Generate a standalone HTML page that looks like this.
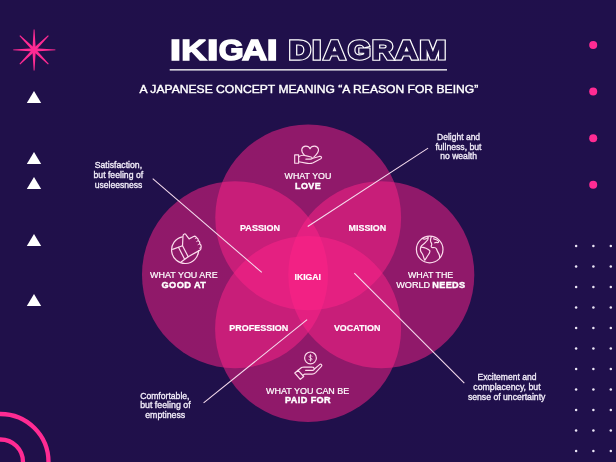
<!DOCTYPE html>
<html>
<head>
<meta charset="utf-8">
<title>Ikigai Diagram</title>
<style>
html,body{margin:0;padding:0;background:#1f1149;}
body{width:616px;height:462px;overflow:hidden;font-family:"Liberation Sans",sans-serif;}
svg{display:block;will-change:transform;}
text{font-family:"Liberation Sans",sans-serif;}
</style>
</head>
<body>
<svg width="616" height="462" viewBox="0 0 616 462">
  <defs>
    <linearGradient id="bg" x1="0" y1="0" x2="1" y2="0">
      <stop offset="0" stop-color="#20104a"/>
      <stop offset="1" stop-color="#20104c"/>
    </linearGradient>
  </defs>
  <rect x="0" y="0" width="616" height="462" fill="url(#bg)"/>

  <!-- star -->
  <g transform="translate(34.1,49.9)" fill="#ff2b93">
    <polygon points="-0.45,-20.4 0.45,-20.4 1.7,0 0.45,20.6 -0.45,20.6 -1.7,0"/>
    <polygon points="-20.9,-0.45 -20.9,0.45 0,1.7 21.3,0.45 21.3,-0.45 0,-1.7"/>
    <g transform="rotate(45)">
      <polygon points="-0.5,-20.2 0.5,-20.2 1.7,0 0.5,20.2 -0.5,20.2 -1.7,0"/>
      <polygon points="-20.2,-0.5 -20.2,0.5 0,1.7 20.2,0.5 20.2,-0.5 0,-1.7"/>
    </g>
    <circle r="2.6"/>
  </g>

  <!-- triangles -->
  <g fill="#ffffff">
    <polygon points="34,91 41.2,103 26.8,103"/>
    <polygon points="34,152 41.2,164 26.8,164"/>
    <polygon points="34,177 41.2,189 26.8,189"/>
    <polygon points="34,234 41.2,246 26.8,246"/>
    <polygon points="34,294 41.2,306 26.8,306"/>
  </g>

  <!-- pink dots -->
  <g fill="#ff2b93">
    <circle cx="593.2" cy="45.1" r="4"/>
    <circle cx="593.2" cy="91.5" r="4"/>
    <circle cx="593.2" cy="138.2" r="4"/>
    <circle cx="593.2" cy="184.8" r="4"/>
  </g>

  <!-- dot grid -->
  <g fill="#ebe6f6">
    <circle cx="576.1" cy="246.0" r="1.25"/><circle cx="593.4" cy="246.0" r="1.25"/><circle cx="610.8" cy="246.0" r="1.25"/>
    <circle cx="576.1" cy="266.5" r="1.25"/><circle cx="593.4" cy="266.5" r="1.25"/><circle cx="610.8" cy="266.5" r="1.25"/>
    <circle cx="576.1" cy="287.0" r="1.25"/><circle cx="593.4" cy="287.0" r="1.25"/><circle cx="610.8" cy="287.0" r="1.25"/>
    <circle cx="576.1" cy="307.5" r="1.25"/><circle cx="593.4" cy="307.5" r="1.25"/><circle cx="610.8" cy="307.5" r="1.25"/>
    <circle cx="576.1" cy="328.0" r="1.25"/><circle cx="593.4" cy="328.0" r="1.25"/><circle cx="610.8" cy="328.0" r="1.25"/>
    <circle cx="576.1" cy="348.5" r="1.25"/><circle cx="593.4" cy="348.5" r="1.25"/><circle cx="610.8" cy="348.5" r="1.25"/>
    <circle cx="576.1" cy="369.0" r="1.25"/><circle cx="593.4" cy="369.0" r="1.25"/><circle cx="610.8" cy="369.0" r="1.25"/>
    <circle cx="576.1" cy="389.5" r="1.25"/><circle cx="593.4" cy="389.5" r="1.25"/><circle cx="610.8" cy="389.5" r="1.25"/>
    <circle cx="576.1" cy="410.0" r="1.25"/><circle cx="593.4" cy="410.0" r="1.25"/><circle cx="610.8" cy="410.0" r="1.25"/>
    <circle cx="576.1" cy="430.5" r="1.25"/><circle cx="593.4" cy="430.5" r="1.25"/><circle cx="610.8" cy="430.5" r="1.25"/>
    <circle cx="576.1" cy="451.0" r="1.25"/><circle cx="593.4" cy="451.0" r="1.25"/><circle cx="610.8" cy="451.0" r="1.25"/>
  </g>

  <!-- arcs -->
  <g fill="none" stroke="#ff2b93" stroke-width="4.3">
    <circle cx="0.5" cy="462" r="48"/>
    <circle cx="0.5" cy="462" r="22.5"/>
  </g>

  <!-- title -->
  <g font-weight="bold" fill="#ffffff" stroke="#ffffff" stroke-width="1.6" stroke-linejoin="miter" stroke-miterlimit="2.5">
    <text transform="translate(169.66,59.90) scale(1.416,1)" font-size="28.92" vector-effect="non-scaling-stroke">I</text>
    <text transform="translate(181.16,59.90) scale(1.210,1)" font-size="28.92" vector-effect="non-scaling-stroke">K</text>
    <text transform="translate(206.72,59.90) scale(1.488,1)" font-size="28.92" vector-effect="non-scaling-stroke">I</text>
    <text transform="translate(218.69,59.90) scale(1.107,1)" font-size="28.92" vector-effect="non-scaling-stroke">G</text>
    <text transform="translate(242.03,59.90) scale(1.206,1)" font-size="28.92" vector-effect="non-scaling-stroke">A</text>
    <text transform="translate(266.56,59.90) scale(1.416,1)" font-size="28.92" vector-effect="non-scaling-stroke">I</text>
  </g>
  <g font-weight="bold" fill="#ffffff" stroke="#ffffff" stroke-width="3.6" stroke-linejoin="miter" stroke-miterlimit="2.5">
    <text transform="translate(288.98,58.80) scale(1.166,1)" font-size="25.87" vector-effect="non-scaling-stroke">D</text>
    <text transform="translate(312.56,58.80) scale(1.181,1)" font-size="25.87" vector-effect="non-scaling-stroke">I</text>
    <text transform="translate(323.76,58.80) scale(1.152,1)" font-size="25.87" vector-effect="non-scaling-stroke">A</text>
    <text transform="translate(348.13,58.80) scale(1.105,1)" font-size="25.87" vector-effect="non-scaling-stroke">G</text>
    <text transform="translate(372.36,58.80) scale(1.120,1)" font-size="25.87" vector-effect="non-scaling-stroke">R</text>
    <text transform="translate(395.54,58.80) scale(1.181,1)" font-size="25.87" vector-effect="non-scaling-stroke">A</text>
    <text transform="translate(419.70,58.80) scale(1.216,1)" font-size="25.87" vector-effect="non-scaling-stroke">M</text>
  </g>
  <g font-weight="bold" fill="#20114a" stroke="#20114a" stroke-width="1.35" stroke-linejoin="miter" stroke-miterlimit="2.5">
    <text transform="translate(288.98,58.80) scale(1.166,1)" font-size="25.87" vector-effect="non-scaling-stroke">D</text>
    <text transform="translate(312.56,58.80) scale(1.181,1)" font-size="25.87" vector-effect="non-scaling-stroke">I</text>
    <text transform="translate(323.76,58.80) scale(1.152,1)" font-size="25.87" vector-effect="non-scaling-stroke">A</text>
    <text transform="translate(348.13,58.80) scale(1.105,1)" font-size="25.87" vector-effect="non-scaling-stroke">G</text>
    <text transform="translate(372.36,58.80) scale(1.120,1)" font-size="25.87" vector-effect="non-scaling-stroke">R</text>
    <text transform="translate(395.54,58.80) scale(1.181,1)" font-size="25.87" vector-effect="non-scaling-stroke">A</text>
    <text transform="translate(419.70,58.80) scale(1.216,1)" font-size="25.87" vector-effect="non-scaling-stroke">M</text>
  </g>
  <rect x="169.7" y="69.2" width="277.3" height="1.3" fill="#ffffff"/>
  <text x="139.6" y="93.2" font-size="11.6" fill="#ffffff" stroke="#ffffff" stroke-width="0.4" textLength="338.6" lengthAdjust="spacingAndGlyphs">A JAPANESE CONCEPT MEANING “A REASON FOR BEING”</text>

  <!-- circles -->
  <g fill="#ff2389" fill-opacity="0.505">
    <circle cx="308.2" cy="217.4" r="92.9"/>
    <ellipse cx="235" cy="274.7" rx="93" ry="93.5"/>
    <ellipse cx="381.3" cy="274.7" rx="93" ry="93.5"/>
    <circle cx="308.1" cy="329" r="93"/>
  </g>

  <!-- lines -->
  <g stroke="#f6dcee" stroke-width="1.05">
    <line x1="152.7" y1="178.6" x2="261.8" y2="272.4"/>
    <line x1="428.1" y1="148.1" x2="307.7" y2="226.5"/>
    <line x1="203.6" y1="402.9" x2="307.1" y2="319.6"/>
    <line x1="354.3" y1="273.2" x2="464.3" y2="383.2"/>
  </g>

  <!-- annotations -->
  <g font-size="9.4" fill="#f4effb" stroke="#f4effb" stroke-width="0.33">
    <text x="94.7" y="168.3" textLength="47.4" lengthAdjust="spacingAndGlyphs">Satisfaction,</text>
    <text x="93.5" y="178.0" textLength="49.6" lengthAdjust="spacingAndGlyphs">but feeling of</text>
    <text x="94.7" y="187.7" textLength="47.6" lengthAdjust="spacingAndGlyphs">useleesness</text>
    <text x="437.1" y="140.2" textLength="43.0" lengthAdjust="spacingAndGlyphs">Delight and</text>
    <text x="435.4" y="149.9" textLength="46.1" lengthAdjust="spacingAndGlyphs">fullness, but</text>
    <text x="440.2" y="159.4" textLength="36.8" lengthAdjust="spacingAndGlyphs">no wealth</text>
    <text x="140.2" y="398.6" textLength="49.3" lengthAdjust="spacingAndGlyphs">Comfortable,</text>
    <text x="140.2" y="408.3" textLength="50.4" lengthAdjust="spacingAndGlyphs">but feeling of</text>
    <text x="145.2" y="417.8" textLength="40.0" lengthAdjust="spacingAndGlyphs">emptiness</text>
    <text x="477.5" y="380.2" textLength="59.0" lengthAdjust="spacingAndGlyphs">Excitement and</text>
    <text x="473.3" y="390.0" textLength="67.3" lengthAdjust="spacingAndGlyphs">complacency, but</text>
    <text x="467.9" y="399.7" textLength="77.5" lengthAdjust="spacingAndGlyphs">sense of uncertainty</text>
  </g>

  <!-- labels -->
  <g font-size="9" fill="#ffffff" stroke="#ffffff" stroke-width="0.2">
    <text x="284.6" y="178.9" textLength="46.8" lengthAdjust="spacingAndGlyphs">WHAT YOU</text>
    <text x="295.1" y="188.7" font-weight="bold" textLength="26" lengthAdjust="spacingAndGlyphs" stroke="#fff" stroke-width="0.42" letter-spacing="0.4">LOVE</text>

    <text x="240" y="230.5" font-weight="bold" textLength="40" lengthAdjust="spacingAndGlyphs">PASSION</text>
    <text x="348.6" y="230.5" font-weight="bold" textLength="37.5" lengthAdjust="spacingAndGlyphs">MISSION</text>
    <text x="294.6" y="279.8" font-weight="bold" textLength="26.3" lengthAdjust="spacingAndGlyphs">IKIGAI</text>
    <text x="229.3" y="331.1" font-weight="bold" textLength="58.9" lengthAdjust="spacingAndGlyphs">PROFESSION</text>
    <text x="333.9" y="331.1" font-weight="bold" textLength="46.5" lengthAdjust="spacingAndGlyphs">VOCATION</text>

    <text x="150.1" y="278.2" textLength="67.6" lengthAdjust="spacingAndGlyphs">WHAT YOU ARE</text>
    <text x="161.5" y="287.6" font-weight="bold" textLength="44.8" lengthAdjust="spacingAndGlyphs" stroke="#fff" stroke-width="0.42" letter-spacing="0.4">GOOD AT</text>

    <text x="407.9" y="278.2" textLength="45.4" lengthAdjust="spacingAndGlyphs">WHAT THE</text>
    <text x="396.2" y="287.6" textLength="34" lengthAdjust="spacingAndGlyphs">WORLD</text>
    <text x="432.2" y="287.6" font-weight="bold" textLength="33.4" lengthAdjust="spacingAndGlyphs" stroke="#fff" stroke-width="0.42" letter-spacing="0.4">NEEDS</text>

    <text x="266.1" y="393.6" textLength="83.2" lengthAdjust="spacingAndGlyphs">WHAT YOU CAN BE</text>
    <text x="285" y="403.3" font-weight="bold" textLength="46.1" lengthAdjust="spacingAndGlyphs" stroke="#fff" stroke-width="0.42" letter-spacing="0.4">PAID FOR</text>
  </g>

  <!-- icons -->
  <g id="icons" fill="none" stroke="#fcdcec" stroke-width="1.2" stroke-linecap="round" stroke-linejoin="round">
    <!-- heart in hand -->
    <g transform="translate(308.2,154.6) scale(0.965) translate(-308.2,-154.6)">
      <path d="M310.1,148.4 C308.6,144.9 302.6,144.6 301.6,149 C301.1,151.4 302.4,153.4 304.2,155.2"/>
      <path d="M310.1,148.4 C311.6,144.9 317.8,144.6 318.8,149 C319.4,152 317,154.6 314,157.2"/>
      <rect x="294.2" y="154.9" width="4.1" height="8.7"/>
      <path d="M298.4,156.9 C300.6,155.3 303.2,155 305.4,155.7 L311.2,157.1 C312.8,157.5 312.6,159.3 311,159.3 L305.8,159.3"/>
      <path d="M312.2,158.7 L319.6,156.5 C321.8,156 323,157.8 321.2,159 L313.4,163 C311.4,163.9 308.4,164 306,163.5 L298.4,162"/>
    </g>
    <!-- thumbs up -->
    <g>
      <path d="M182.3,236.8 A13.5,13.5 0 1 0 198.6,250.6"/>
      <path d="M182.5,245.8 L183,236 C183.1,233.6 185.6,233.2 186.4,235.4 L189.1,238.9 L193.6,236.5 C194.8,235.9 196,236.6 196.6,237.8 C197.8,238 198.4,239.6 198.2,240.6 C199.4,241.2 200,242.8 199.6,243.8 C200.8,244.6 201.4,246.4 200.9,247.6 C201.2,249 200.6,249.8 199.6,250.4 L188.2,256.7"/>
      <path d="M172.6,249.4 L182.5,245.8 L188.2,256.7 L180.4,262.4"/>
      <path d="M178.6,247.4 L184.6,259.2"/>
      <path d="M196.6,237.8 L195.2,238.6 M198.2,240.6 L196.6,241.5 M199.6,243.8 L198,244.7 M200.9,247.6 L199.3,248.3" stroke-width="0.8"/>
    </g>
    <!-- globe -->
    <g>
      <circle cx="429.7" cy="249.5" r="13.3"/>
      <path d="M422.4,238.6 C424.4,239.8 426.4,239 428.2,237.4 C428.4,239.2 427.6,240.6 426.2,241.6 C425.2,242.6 424.4,243.6 423.4,244.2 C422.2,245 421.2,245.8 420.8,247 C420.2,249 420.2,250.6 421.2,252.2 C422.2,253.6 423,254.8 423.4,256.4 C423.8,258 424.2,259.2 424.8,260.2 C426,258.600 427,256.800 428.2,255 C429.4,253.4 430.200,252 429.8,250.600 C428.800,249.400 427.400,248.800 426,248.200 C424.600,247.600 423.200,247.400 421.600,247.200"/>
      <path d="M431.400,236.600 C430.600,238.400 430.200,240.200 430.800,241.800 C431.600,243 432.200,244.200 431.400,245.600 C430.800,246.800 431.600,247.600 433,247.600 C434.400,247.400 435.800,247.400 436.400,248.800 C437,250.400 437.600,252 438.600,253.400 C439.400,254.800 439.800,256.200 439.600,257.800"/>
      <path d="M433.600,238.800 C435,239.600 436.800,239.600 438,240.600 C439,241.400 438.800,242.600 437.600,242.600 C436.600,242.400 435.600,242.200 434.800,242.800"/>
    </g>
    <!-- coin + hand -->
    <g>
      <circle cx="310.5" cy="357.9" r="5.9"/>
      <path d="M312,356.200 C311.600,355.300 309.200,355.200 309.100,356.600 C309.100,358 312,357.800 312,359.300 C311.900,360.700 309.400,360.600 309,359.600 M310.500,354.600 L310.500,361.200" stroke-width="0.85"/>
      <path d="M294.800,373 L298.100,370.300 L303.700,376.500 L300.300,379.400 Z"/>
      <path d="M298.100,370.300 L301.600,367.600 C302.400,367.100 303.200,367 304,367 L312.400,367.200 C314.600,367.200 314.800,370.200 312.600,370.300 L305.600,370.300"/>
      <path d="M314.400,369 L319.600,364.600 C321,363.600 322.600,365 321.400,366.400 L315.600,372.600 C314.600,373.600 313.400,374.200 312,374.200 L304.400,374.200 L302.600,375.400"/>
    </g>
  </g>
</svg>
</body>
</html>
